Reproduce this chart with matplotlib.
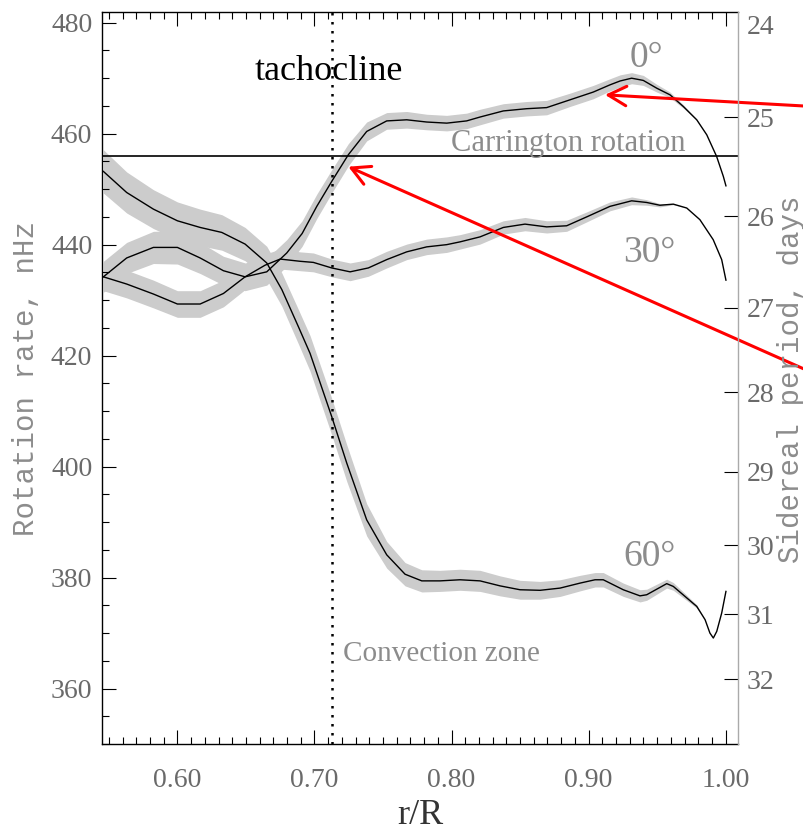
import numpy as np
import matplotlib.pyplot as plt
from matplotlib.ticker import MultipleLocator, FixedLocator

# Rotation rate profiles (r/R, nHz) with their error half-widths.
r_eq = [0.546, 0.563, 0.5825, 0.600, 0.6166, 0.6336, 0.6494, 0.6652, 0.6798, 0.691,
        0.7017, 0.7126, 0.7247, 0.7381, 0.7527, 0.7673, 0.7819, 0.7965, 0.811, 0.8208,
        0.8378, 0.8548, 0.8694, 0.8864, 0.9034, 0.9156, 0.923, 0.9314, 0.9399, 0.9497,
        0.9594, 0.9691, 0.9789, 0.9862, 0.9934, 0.9983, 1.0002]
rate_eq = [434.2, 437.6, 439.5, 439.5, 437.6, 435.3, 434.2, 435.1, 438.5, 442.0,
           446.9, 451.4, 456.2, 460.4, 462.3, 462.5, 462.1, 461.9, 462.3, 463.0,
           464.1, 464.5, 464.7, 466.1, 467.5, 468.8, 469.5, 470.0, 469.6, 468.2,
           467.0, 464.9, 462.5, 459.8, 455.9, 452.3, 450.6]
err_eq = [2.8, 2.8, 2.9, 3.0, 2.8, 2.6, 2.5, 2.4, 2.4, 2.3,
          2.2, 2.1, 2.0, 1.7, 1.5, 1.5, 1.4, 1.4, 1.4, 1.4,
          1.3, 1.3, 1.3, 1.2, 1.2, 1.1, 1.1, 1.0, 0.9, 0.7,
          0.5, 0.3, 0.1, 0.0, 0.0, 0.0, 0.0]

r_30 = [0.546, 0.563, 0.5825, 0.600, 0.6166, 0.6336, 0.6494, 0.664, 0.675, 0.6895,
        0.6992, 0.7126, 0.726, 0.7393, 0.7527, 0.7673, 0.7819, 0.7965, 0.8062, 0.8208,
        0.8378, 0.8536, 0.8694, 0.884, 0.8986, 0.9156, 0.9314, 0.9424, 0.952, 0.9618,
        0.9716, 0.9812, 0.9909, 0.9971, 1.0002]
rate_30 = [434.2, 432.9, 431.1, 429.3, 429.3, 431.2, 434.2, 436.3, 437.4, 437.0,
           436.8, 435.8, 435.1, 435.8, 437.3, 438.7, 439.6, 440.0, 440.5, 441.4,
           443.1, 443.7, 443.2, 443.4, 445.0, 446.9, 447.9, 447.6, 447.1, 447.3,
           446.6, 444.5, 440.9, 437.3, 433.6]
err_30 = [2.5, 2.5, 2.5, 2.4, 2.4, 2.4, 2.3, 2.0, 1.8, 1.7,
          1.7, 1.6, 1.6, 1.5, 1.5, 1.4, 1.4, 1.4, 1.3, 1.3,
          1.2, 1.2, 1.1, 1.0, 0.9, 0.8, 0.7, 0.5, 0.3, 0.1,
          0.0, 0.0, 0.0, 0.0, 0.0]

r_60 = [0.546, 0.563, 0.5825, 0.600, 0.6166, 0.6324, 0.6494, 0.6652, 0.6762, 0.6883,
        0.6968, 0.7126, 0.7236, 0.7381, 0.7527, 0.7661, 0.7783, 0.7916, 0.8062, 0.8208,
        0.8354, 0.85, 0.8646, 0.8792, 0.8938, 0.9047, 0.9107, 0.9253, 0.9375, 0.9424,
        0.957, 0.9618, 0.9789, 0.985, 0.9885, 0.991, 0.9935, 0.9971, 1.0002]
rate_60 = [453.2, 449.4, 446.4, 444.3, 443.1, 442.2, 440.1, 436.7, 431.9, 425.2,
           420.4, 409.0, 400.6, 390.4, 384.1, 380.6, 379.4, 379.4, 379.6, 379.4,
           378.5, 377.8, 377.7, 378.1, 379.0, 379.6, 379.6, 377.8, 376.7, 376.9,
           378.9, 378.4, 374.8, 372.4, 370.0, 369.1, 370.3, 373.6, 377.5]
err_60 = [3.9, 3.7, 3.5, 3.4, 3.3, 3.2, 3.0, 3.0, 3.0, 3.1,
          3.2, 3.3, 3.3, 2.9, 2.4, 2.1, 2.0, 1.9, 1.9, 1.9,
          1.8, 1.7, 1.6, 1.5, 1.4, 1.3, 1.3, 1.2, 1.1, 1.0,
          0.8, 0.7, 0.3, 0.0, 0.0, 0.0, 0.0, 0.0, 0.0]

carrington_nhz = 456.0
r_base_cz = 0.7126
period_days = [25, 26, 27, 28, 29, 30, 31, 32]

curves = [(r_eq, rate_eq, err_eq), (r_30, rate_30, err_30), (r_60, rate_60, err_60)]

tick_grey = "#6a6a6a"
text_grey = "#8c8c8c"

fig = plt.figure(figsize=(8.04, 8.33), dpi=100)
ax = fig.add_axes([102 / 804, 1 - 744 / 833, 636 / 804, 732 / 833])

# Grey error bands first, then the black profiles on top.
for r, rate, err in curves:
    r, rate, err = np.array(r), np.array(rate), np.array(err)
    ax.fill_between(r, rate - err, rate + err, color="#cccccc", lw=0)
for r, rate, err in curves:
    ax.plot(r, rate, color="black", lw=1.0)

ax.axhline(carrington_nhz, color="black", lw=1.2)
ax.axvline(r_base_cz, color="black", lw=1.8, ls=(0, (1, 2.6)))

ax.set_xlim(0.545, 1.009)
ax.set_ylim(350, 481.93)

ax.xaxis.set_major_locator(MultipleLocator(0.1))
ax.xaxis.set_minor_locator(MultipleLocator(0.01))
ax.yaxis.set_major_locator(MultipleLocator(20))
ax.yaxis.set_minor_locator(MultipleLocator(5))
ax.xaxis.set_major_formatter(plt.FormatStrFormatter("%.2f"))
ax.tick_params(axis="both", which="both", direction="in", width=0.8, color="black",
               top=True, right=False)
ax.tick_params(axis="both", which="major", length=10)
ax.tick_params(axis="both", which="minor", length=5)
ax.tick_params(axis="x", which="major", pad=17, labelsize=20, labelcolor=tick_grey)
ax.tick_params(axis="y", which="major", pad=7, labelsize=20, labelcolor=tick_grey)
for lab in ax.get_xticklabels() + ax.get_yticklabels():
    lab.set_family("Liberation Serif")
ax.spines["right"].set_visible(False)
for s in ["left", "top", "bottom"]:
    ax.spines[s].set_linewidth(1.0)

# Right axis: sidereal period in days, placed at 1e9 / (P * 86400) nHz.
ax2 = ax.twinx()
ax2.set_ylim(ax.get_ylim())
ax2.yaxis.set_major_locator(FixedLocator([1e9 / (p * 86400.0) for p in period_days]))
ax2.set_yticklabels([str(p) for p in period_days], family="Liberation Serif",
                    fontsize=20, color=tick_grey)
ax2.tick_params(axis="y", direction="in", length=10, width=0.8, pad=6)
for s in ["left", "top", "bottom"]:
    ax2.spines[s].set_visible(False)
ax2.spines["right"].set_color("#aaaaaa")
ax2.spines["right"].set_linewidth(1.0)
ax2.text(1.0137, 0.9959, "24", transform=ax2.transAxes, ha="left", va="top",
         family="Liberation Serif", fontsize=20, color=tick_grey)

# Labels and annotations.
fig.text(26 / 804, 1 - 378 / 833, "Rotation rate, nHz", rotation=90, ha="center",
         va="center", family="Liberation Mono", fontsize=21, color=text_grey)
fig.text(791 / 804, 1 - 379 / 833, "Sidereal period, days", rotation=90, ha="center",
         va="center", family="Liberation Mono", fontsize=21, color=text_grey)
fig.text(420 / 804, 1 - 815 / 833, "r/R", ha="center", va="center",
         family="Liberation Serif", fontsize=26, color="#333333")

ax.text(0.6567, 469.7, "tachocline", ha="left", va="baseline",
        family="Liberation Serif", fontsize=26, color="black")
ax.text(0.7999, 456.9, "Carrington rotation", ha="left", va="baseline",
        family="Liberation Serif", fontsize=22, color=text_grey)
ax.text(0.7211, 364.9, "Convection zone", ha="left", va="baseline",
        family="Liberation Serif", fontsize=21, color=text_grey)
ax.text(0.930, 472.1, "0°", ha="left", va="baseline",
        family="Liberation Serif", fontsize=27, color=text_grey)
ax.text(0.9253, 436.9, "30°", ha="left", va="baseline",
        family="Liberation Serif", fontsize=27, color=text_grey)
ax.text(0.9253, 382.0, "60°", ha="left", va="baseline",
        family="Liberation Serif", fontsize=27, color=text_grey)

arrow_style = "->, head_length=1.3, head_width=0.7"
ax.annotate("", xy=(0.912, 467.0), xycoords="data",
            xytext=(1.0, 1 - 106 / 833), textcoords="figure fraction",
            arrowprops=dict(arrowstyle=arrow_style, color="red", lw=2.2,
                            shrinkA=0, shrinkB=0, mutation_scale=10),
            annotation_clip=False)
ax.annotate("", xy=(0.7247, 454.05), xycoords="data",
            xytext=(1.0, 1 - 369 / 833), textcoords="figure fraction",
            arrowprops=dict(arrowstyle=arrow_style, color="red", lw=2.2,
                            shrinkA=0, shrinkB=0, mutation_scale=10),
            annotation_clip=False)

plt.savefig("out.png", dpi=100)
